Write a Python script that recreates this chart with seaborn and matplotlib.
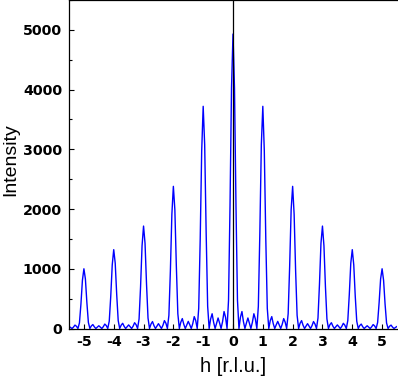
import numpy as np
import pandas as pd
import matplotlib
matplotlib.use("Agg")
import matplotlib.pyplot as plt
import seaborn as sns
from matplotlib.ticker import MultipleLocator

h_step = 0.05
h_values = np.round(np.arange(-110, 111) * h_step, 2)

# h = -5.50 ... -0.05
intensity_neg = [
    35, 18, 0, 23, 57, 37, 0, 93, 408, 807,
    1000, 829, 431, 101, 0, 43, 66, 28, 0, 23, 46, 24, 0, 30, 74, 49, 0, 123, 538, 1064,
    1320, 1093, 568, 133, 0, 56, 87, 36, 0, 30, 60, 31, 0, 39, 97, 64, 0, 160, 700, 1384,
    1715, 1425, 742, 175, 0, 74, 116, 48, 0, 41, 81, 42, 0, 53, 132, 88, 0, 220, 965, 1913,
    2380, 1989, 1043, 247, 0, 106, 166, 70, 0, 60, 119, 62, 0, 80, 199, 133, 0, 337, 1490, 2973,
    3720, 3077, 1596, 373, 0, 159, 247, 104, 0, 89, 176, 92, 0, 115, 284, 189, 0, 472, 2055, 4025,
]
# h = 0.00 ... 5.50
intensity_pos = [
    4930, 4025, 2055, 472, 0, 189, 284, 115, 0, 92, 176, 89, 0, 104, 247, 159, 0, 373, 1596, 3077,
    3720, 2973, 1490, 337, 0, 133, 199, 80, 0, 62, 119, 60, 0, 70, 166, 106, 0, 247, 1043, 1989,
    2380, 1913, 965, 220, 0, 88, 132, 53, 0, 42, 81, 41, 0, 48, 116, 74, 0, 175, 742, 1425,
    1715, 1384, 700, 160, 0, 64, 97, 39, 0, 31, 60, 30, 0, 36, 87, 56, 0, 133, 568, 1093,
    1320, 1064, 538, 123, 0, 49, 74, 30, 0, 24, 46, 23, 0, 28, 66, 43, 0, 101, 431, 829,
    1000, 807, 408, 93, 0, 37, 57, 23, 0, 18, 35,
]

x_ticks = [-5, -4, -3, -2, -1, 0, 1, 2, 3, 4, 5]
y_ticks = [0, 1000, 2000, 3000, 4000, 5000]

df = pd.DataFrame({"h": h_values, "Intensity": intensity_neg + intensity_pos})

sns.set_style("ticks")
plt.rcParams["font.family"] = ["Liberation Sans", "DejaVu Sans"]

fig = plt.figure(figsize=(3.98, 3.77), dpi=100)
ax = fig.add_axes([69 / 398, (377 - 328.5) / 377, 328 / 398, 328.5 / 377])

sns.lineplot(data=df, x="h", y="Intensity", ax=ax, color="#0000ff",
             linewidth=1.0, estimator=None, sort=False)
ax.axvline(0, color="black", linewidth=0.9, zorder=3)

ax.set_xlim(-5.5, 5.5)
ax.set_ylim(0, 5500)
ax.set_xticks(x_ticks)
ax.set_xticklabels([str(t) for t in x_ticks])
ax.set_yticks(y_ticks)
ax.set_yticklabels([str(t) for t in y_ticks])
ax.yaxis.set_minor_locator(MultipleLocator(500))

ax.tick_params(axis="both", which="major", direction="in", length=3.3, width=0.8,
               pad=5, colors="black")
ax.tick_params(axis="y", which="minor", direction="in", length=1.8, width=0.8,
               colors="black")
for lab in ax.get_xticklabels() + ax.get_yticklabels():
    lab.set_fontfamily("DejaVu Sans")
    lab.set_fontweight("bold")
    lab.set_fontsize(10.3)
    lab.set_color("black")

for side in ["left", "bottom", "top"]:
    ax.spines[side].set_visible(True)
    ax.spines[side].set_linewidth(0.9)
    ax.spines[side].set_color("black")
ax.spines["right"].set_visible(False)

ax.set_xlabel("h [r.l.u.]", fontsize=14.5, color="black")
ax.set_ylabel("Intensity", fontsize=14, va="center", color="black")
ax.xaxis.set_label_coords(0.5, -0.088)
ax.yaxis.set_label_coords(-0.178, 0.513)

fig.savefig("out.png", dpi=100, facecolor="white")
